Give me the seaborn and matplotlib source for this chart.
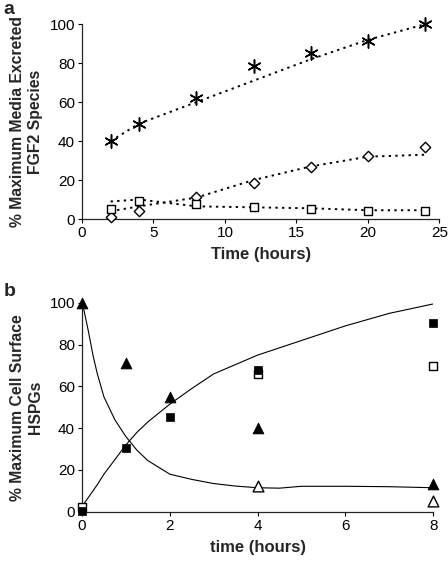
import numpy as np
import pandas as pd
import seaborn as sns
import matplotlib.pyplot as plt

# panel a - media excreted FGF2 species
time_a = [2, 4, 8, 12, 16, 20, 24]
star_pts = [40, 49, 62, 78.5, 85, 91.5, 100]
star_fit = [40, 49, 60, 71, 82, 92, 100]
diamond_pts = [1, 4, 11.5, 18.5, 26.5, 32.5, 37]
diamond_fit = [4, 6.5, 11, 20, 27, 32, 33]
square_pts = [5, 9, 7.5, 6, 5, 4, 4]
square_fit = [9, 10, 6.5, 6, 5.5, 4.5, 4.5]

# panel b - cell surface HSPGs
time_b_tri = [0, 1, 2, 4, 8]
tri_filled = [100, 71, 55, 40, 13.5]
time_b_otri = [4, 8]
tri_open = [12.5, 5]
time_b_sq = [0, 1, 2, 4, 8]
sq_filled = [0.5, 30.5, 45.5, 68, 90.5]
time_b_osq = [0, 4, 8]
sq_open = [2.5, 66, 70]

# model curves
curve_t = [0, 0.05, 0.1, 0.15, 0.25, 0.35, 0.5, 0.75, 1, 1.25, 1.5, 2, 2.5, 3,
           3.5, 4, 4.5, 5, 6, 7, 8]
curve_down = [100, 96, 91, 86, 75, 66, 55, 44, 36, 29.5, 24.5, 18, 15.5, 13.5,
              12.3, 11.5, 11.3, 12.2, 12.2, 12, 11.5]
curve_up = [3, 4, 5.5, 7, 10, 13, 18, 25, 32, 38, 43, 51.5, 59, 66,
            70.5, 75, 78.5, 82, 89, 95, 99.5]

sns.set_style("ticks")
plt.rcParams['font.family'] = ['Liberation Sans', 'DejaVu Sans']

fig = plt.figure(figsize=(4.48, 5.63), dpi=100)
ax1 = fig.add_axes([0.183, 0.611, 0.798, 0.346])
ax2 = fig.add_axes([0.183, 0.091, 0.784, 0.371])

dots = dict(color='k', linestyle=(0, (1.2, 2.2)), linewidth=1.4)
sns.lineplot(x=time_a, y=star_fit, ax=ax1, **dots)
sns.lineplot(x=time_a, y=diamond_fit, ax=ax1, **dots)
sns.lineplot(x=time_a, y=square_fit, ax=ax1, **dots)
sns.scatterplot(x=time_a, y=star_pts, ax=ax1, marker=(6, 2, 0), s=90,
                color='k', linewidth=1.1, clip_on=False, zorder=3)
sns.scatterplot(x=time_a, y=diamond_pts, ax=ax1, marker='D', s=28,
                color='white', edgecolor='k', linewidth=1.0, clip_on=False, zorder=3)
sns.scatterplot(x=time_a, y=square_pts, ax=ax1, marker='s', s=40,
                color='white', edgecolor='k', linewidth=1.0, clip_on=False, zorder=3)

ax1.set_xlim(0, 25)
ax1.set_ylim(0, 100)
ax1.set_xticks([0, 5, 10, 15, 20, 25])
ax1.set_yticks([0, 20, 40, 60, 80, 100])
ax1.set_xlabel("Time (hours)", fontsize=12, fontweight='bold', labelpad=5)
ax1.set_ylabel("% Maximum Media Excreted\nFGF2 Species", fontsize=11.3,
               fontweight='bold', labelpad=5)

sns.lineplot(x=curve_t, y=curve_down, ax=ax2, color='k', linewidth=0.8)
sns.lineplot(x=curve_t, y=curve_up, ax=ax2, color='k', linewidth=0.8)
sns.scatterplot(x=time_b_tri, y=tri_filled, ax=ax2, marker='^', s=60,
                color='k', edgecolor='k', clip_on=False, zorder=3)
sns.scatterplot(x=time_b_otri, y=tri_open, ax=ax2, marker='^', s=60,
                color='white', edgecolor='k', linewidth=1.0, clip_on=False, zorder=3)
sns.scatterplot(x=time_b_osq, y=sq_open, ax=ax2, marker='s', s=40,
                color='white', edgecolor='k', linewidth=1.0, clip_on=False, zorder=3)
sns.scatterplot(x=time_b_sq, y=sq_filled, ax=ax2, marker='s', s=40,
                color='k', edgecolor='k', clip_on=False, zorder=4)

ax2.set_xlim(0, 8)
ax2.set_ylim(0, 100)
ax2.set_xticks([0, 2, 4, 6, 8])
ax2.set_yticks([0, 20, 40, 60, 80, 100])
ax2.set_xlabel("time (hours)", fontsize=12, fontweight='bold', labelpad=5)
ax2.set_ylabel("% Maximum Cell Surface\nHSPGs", fontsize=11.3,
               fontweight='bold', labelpad=5)

for ax in (ax1, ax2):
    sns.despine(ax=ax)
    ax.tick_params(labelsize=11, length=3, width=0.8, colors='k', pad=2)
    for s in ax.spines.values():
        s.set_linewidth(0.9)

fig.text(0.008, 0.999, "a", fontsize=14, fontweight='bold', va='top')
fig.text(0.008, 0.497, "b", fontsize=14, fontweight='bold', va='top')

plt.savefig("out.png", dpi=100)
